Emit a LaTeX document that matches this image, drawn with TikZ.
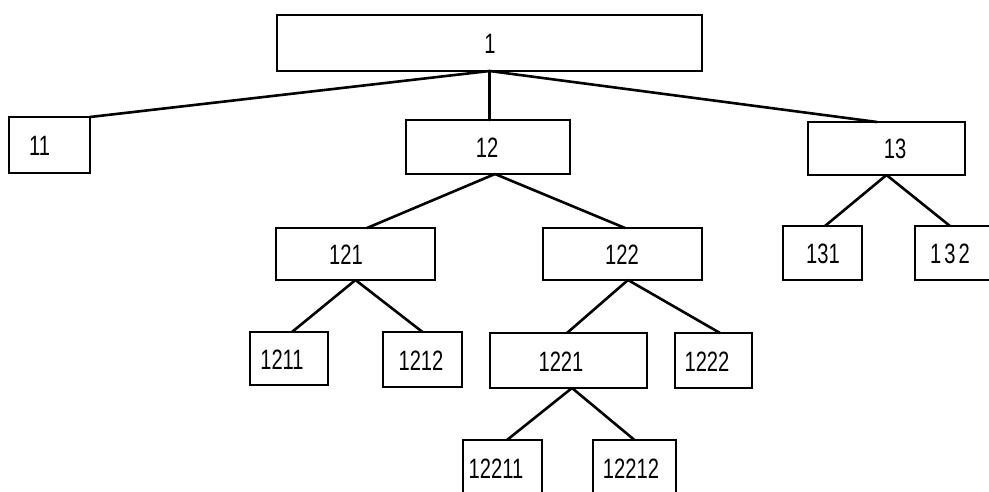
\documentclass[tikz,border=0pt]{standalone}
\usepackage{fontspec}
\setmainfont{Liberation Sans}[FakeStretch=0.72]
\begin{document}
\begin{tikzpicture}[x=1pt,y=-1pt,
  box/.style={draw, rectangle, line width=2.8pt, inner sep=0pt, outer sep=0pt, fill=white},
  txt/.style={font=\fontsize{28}{28}\selectfont},
  link/.style={line width=2.6pt, line cap=round}]
\useasboundingbox (0,0) rectangle (989,492);
\clip (0,0) rectangle (989,492);
% boxes
\node[box, minimum width=425, minimum height=56] (n1) at (489.5,43) {};
\node[box, minimum width=81, minimum height=56] (n11) at (49.5,145) {};
\node[box, minimum width=164, minimum height=54] (n12) at (488,147) {};
\node[box, minimum width=157, minimum height=53] (n13) at (886.5,148.5) {};
\node[box, minimum width=159, minimum height=52] (n121) at (355.5,254) {};
\node[box, minimum width=159, minimum height=52] (n122) at (622.5,254) {};
\node[box, minimum width=79, minimum height=54] (n131) at (822.5,253) {};
\node[box, minimum width=79, minimum height=54] (n132) at (954.5,253) {};
\node[box, minimum width=78, minimum height=53] (n1211) at (289,358.5) {};
\node[box, minimum width=79, minimum height=55] (n1212) at (422.5,359.5) {};
\node[box, minimum width=157, minimum height=55] (n1221) at (568.5,360.5) {};
\node[box, minimum width=77, minimum height=55] (n1222) at (713.5,360.5) {};
\node[box, minimum width=79, minimum height=56] (n12211) at (502.5,468) {};
\node[box, minimum width=83, minimum height=56] (n12212) at (634.5,468) {};
% labels
\node[txt] (t1) at (490,44) {1};
\node[txt] (t11) at (39.5,146) {11};
\node[txt] (t12) at (487,148) {12};
\node[txt] (t13) at (895,149) {13};
\node[txt] (t121) at (346,255) {121};
\node[txt] (t122) at (622,255) {122};
\node[txt] (t131) at (823,254) {131};
\node[txt] (t132) at (950,254) {1\hspace{3pt}3\hspace{3pt}2};
\node[txt] (t1211) at (282,360) {1211};
\node[txt] (t1212) at (421,361) {1212};
\node[txt] (t1221) at (561,362) {1221};
\node[txt] (t1222) at (707,362) {1222};
\node[txt] (t12211) at (496,469) {12211};
\node[txt] (t12212) at (631,469) {12212};
% connectors
\draw[link] (n1.south) -- (n11.north east);
\draw[link] (n1.south) -- (n1.south |- n12.north);
\draw[link] (n1.south) -- ([xshift=-9.5pt]n13.north);
\draw[link] ([xshift=7pt]n12.south) -- ([xshift=11.5pt]n121.north);
\draw[link] ([xshift=7pt]n12.south) -- ([xshift=2.5pt]n122.north);
\draw[link] (n121.south) -- ([xshift=3pt]n1211.north);
\draw[link] (n121.south) -- (n1212.north);
\draw[link] ([xshift=5.5pt]n122.south) -- ([xshift=-1.5pt]n1221.north);
\draw[link] ([xshift=5.5pt]n122.south) -- ([xshift=6.5pt]n1222.north);
\draw[link] (n13.south) -- ([xshift=2.5pt]n131.north);
\draw[link] (n13.south) -- ([xshift=-4.5pt]n132.north);
\draw[link] ([xshift=3.5pt]n1221.south) -- ([xshift=4.5pt]n12211.north);
\draw[link] ([xshift=3.5pt]n1221.south) -- (n12212.north);
\end{tikzpicture}
\end{document}
